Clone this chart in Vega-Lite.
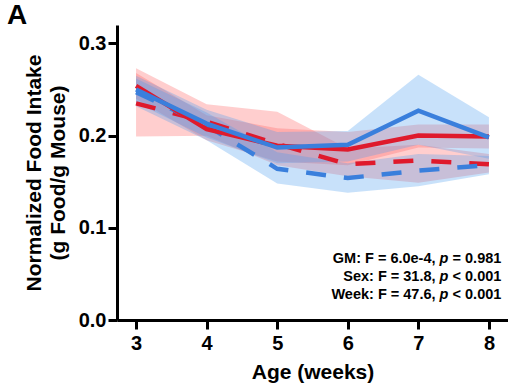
{
  "$schema": "https://vega.github.io/schema/vega-lite/v6.json",
  "width": 391,
  "height": 295,
  "autosize": "none",
  "padding": {"left": 117, "top": 25, "right": 0, "bottom": 66},
  "background": "white",
  "config": {
    "view": {"stroke": null},
    "font": "Liberation Sans",
    "axis": {
      "domainColor": "black",
      "domainWidth": 3,
      "tickColor": "black",
      "tickWidth": 3,
      "tickSize": 9,
      "grid": false,
      "labelFont": "Liberation Sans",
      "labelFontWeight": "bold",
      "labelFontSize": 20,
      "labelColor": "black",
      "titleFont": "Liberation Sans",
      "titleFontWeight": "bold",
      "titleFontSize": 21,
      "titleColor": "black"
    }
  },
  "title": {
    "text": "A",
    "anchor": "start",
    "frame": "group",
    "dx": -110,
    "offset": -5,
    "font": "Liberation Sans",
    "fontSize": 28,
    "fontWeight": "bold",
    "color": "black"
  },
  "data": {
    "values": [
      {"week": 3, "gm": "GM1", "sex": "Male", "mean": 0.254, "lo": 0.240, "hi": 0.268},
      {"week": 4, "gm": "GM1", "sex": "Male", "mean": 0.207, "lo": 0.195, "hi": 0.222},
      {"week": 5, "gm": "GM1", "sex": "Male", "mean": 0.189, "lo": 0.172, "hi": 0.208},
      {"week": 6, "gm": "GM1", "sex": "Male", "mean": 0.185, "lo": 0.168, "hi": 0.204},
      {"week": 7, "gm": "GM1", "sex": "Male", "mean": 0.200, "lo": 0.187, "hi": 0.212},
      {"week": 8, "gm": "GM1", "sex": "Male", "mean": 0.199, "lo": 0.186, "hi": 0.212},
      {"week": 3, "gm": "GM1", "sex": "Female", "mean": 0.235, "lo": 0.199, "hi": 0.273},
      {"week": 4, "gm": "GM1", "sex": "Female", "mean": 0.215, "lo": 0.200, "hi": 0.234},
      {"week": 5, "gm": "GM1", "sex": "Female", "mean": 0.191, "lo": 0.168, "hi": 0.226},
      {"week": 6, "gm": "GM1", "sex": "Female", "mean": 0.169, "lo": 0.156, "hi": 0.186},
      {"week": 7, "gm": "GM1", "sex": "Female", "mean": 0.173, "lo": 0.149, "hi": 0.190},
      {"week": 8, "gm": "GM1", "sex": "Female", "mean": 0.169, "lo": 0.160, "hi": 0.180},
      {"week": 3, "gm": "GM2", "sex": "Male", "mean": 0.250, "lo": 0.236, "hi": 0.265},
      {"week": 4, "gm": "GM2", "sex": "Male", "mean": 0.213, "lo": 0.198, "hi": 0.228},
      {"week": 5, "gm": "GM2", "sex": "Male", "mean": 0.187, "lo": 0.170, "hi": 0.204},
      {"week": 6, "gm": "GM2", "sex": "Male", "mean": 0.190, "lo": 0.172, "hi": 0.205},
      {"week": 7, "gm": "GM2", "sex": "Male", "mean": 0.227, "lo": 0.190, "hi": 0.266},
      {"week": 8, "gm": "GM2", "sex": "Male", "mean": 0.198, "lo": 0.175, "hi": 0.220},
      {"week": 3, "gm": "GM2", "sex": "Female", "mean": 0.247, "lo": 0.232, "hi": 0.262},
      {"week": 4, "gm": "GM2", "sex": "Female", "mean": 0.211, "lo": 0.195, "hi": 0.225},
      {"week": 5, "gm": "GM2", "sex": "Female", "mean": 0.164, "lo": 0.148, "hi": 0.182},
      {"week": 6, "gm": "GM2", "sex": "Female", "mean": 0.154, "lo": 0.138, "hi": 0.170},
      {"week": 7, "gm": "GM2", "sex": "Female", "mean": 0.162, "lo": 0.145, "hi": 0.180},
      {"week": 8, "gm": "GM2", "sex": "Female", "mean": 0.168, "lo": 0.158, "hi": 0.178}
    ]
  },
  "layer": [
    {
      "mark": {"type": "area", "fillOpacity": 0.3, "strokeWidth": 0},
      "encoding": {
        "x": {
          "field": "week", "type": "quantitative",
          "scale": {"domain": [2.73, 8.27], "nice": false, "zero": false},
          "axis": {"values": [3, 4, 5, 6, 7, 8], "format": "d", "title": "Age (weeks)", "labelPadding": 4, "titlePadding": 8}
        },
        "y": {
          "field": "lo", "type": "quantitative",
          "scale": {"domain": [0, 0.32], "nice": false},
          "axis": {"values": [0, 0.1, 0.2, 0.3], "format": ".1f", "title": ["Normalized Food Intake", "(g Food/g Mouse)"], "titleLineHeight": 24, "labelPadding": 2, "titlePadding": 10}
        },
        "y2": {"field": "hi"},
        "fill": {"field": "gm", "type": "nominal", "scale": {"domain": ["GM1", "GM2"], "range": ["#ff5c5c", "#4a9af0"]}, "legend": null},
        "detail": {"field": "sex"}
      }
    },
    {
      "transform": [{"filter": "datum.sex == 'Female'"}],
      "mark": {"type": "line", "strokeWidth": 4.5, "strokeDash": [20, 18]},
      "encoding": {
        "x": {"field": "week", "type": "quantitative"},
        "y": {"field": "mean", "type": "quantitative"},
        "stroke": {"field": "gm", "type": "nominal", "scale": {"domain": ["GM1", "GM2"], "range": ["#df1a2c", "#3a7fdc"]}, "legend": null}
      }
    },
    {
      "transform": [{"filter": "datum.sex == 'Male'"}],
      "mark": {"type": "line", "strokeWidth": 4.5},
      "encoding": {
        "x": {"field": "week", "type": "quantitative"},
        "y": {"field": "mean", "type": "quantitative"},
        "stroke": {"field": "gm", "type": "nominal", "legend": null}
      }
    },
    {
      "data": {"values": [
        {"x": 7.30, "y": 0.066, "head": "GM: F = 6.0e-4,", "tail": "= 0.981"},
        {"x": 7.30, "y": 0.0465, "head": "Sex: F = 31.8,", "tail": "< 0.001"},
        {"x": 7.30, "y": 0.027, "head": "Week: F = 47.6,", "tail": "< 0.001"}
      ]},
      "layer": [
        {
          "mark": {"type": "text", "align": "right", "baseline": "middle", "dx": -4, "font": "Liberation Sans", "fontWeight": "bold", "fontSize": 14.5, "color": "black"},
          "encoding": {"x": {"field": "x", "type": "quantitative"}, "y": {"field": "y", "type": "quantitative"}, "text": {"field": "head"}}
        },
        {
          "mark": {"type": "text", "align": "left", "baseline": "middle", "font": "Liberation Sans", "fontWeight": "bold", "fontStyle": "italic", "fontSize": 14.5, "color": "black", "text": "p"},
          "encoding": {"x": {"field": "x", "type": "quantitative"}, "y": {"field": "y", "type": "quantitative"}}
        },
        {
          "mark": {"type": "text", "align": "left", "baseline": "middle", "dx": 13, "font": "Liberation Sans", "fontWeight": "bold", "fontSize": 14.5, "color": "black"},
          "encoding": {"x": {"field": "x", "type": "quantitative"}, "y": {"field": "y", "type": "quantitative"}, "text": {"field": "tail"}}
        }
      ]
    }
  ]
}
